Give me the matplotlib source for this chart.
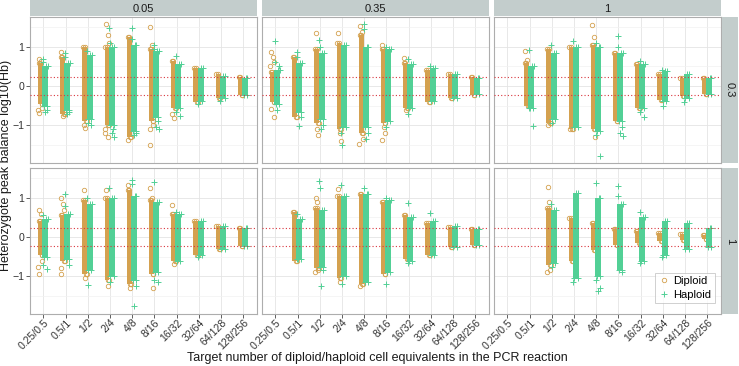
import matplotlib
matplotlib.use("Agg")
import matplotlib.pyplot as plt
from matplotlib.lines import Line2D
from matplotlib.transforms import ScaledTranslation
import numpy as np

plt.rcParams['font.family'] = ['Liberation Sans', 'DejaVu Sans']

categories = ["0.25/0.5", "0.5/1", "1/2", "2/4", "4/8", "8/16", "16/32", "32/64", "64/128", "128/256"]
col_labels = ["0.05", "0.35", "1"]
row_labels = ["0.3", "1"]
hb_threshold = 0.6

# ---- facet row 0.3, col 0.05 ----
dip_lo_a = [-0.45, -0.7, -0.9, -1.0, -1.3, -0.9, -0.55, -0.4, -0.3, -0.22]
dip_hi_a = [0.6, 0.75, 1.0, 1.0, 1.25, 0.95, 0.65, 0.45, 0.3, 0.22]
dip_out_a = [[0.68, 0.63, -0.55, -0.62, -0.68], [0.87, -0.75], [-1.0, -1.08], [1.58, 1.3, 1.1, -1.1, -1.2, -1.3],
             [-1.37], [1.51, 1.05, -1.0, -1.1, -1.49], [-0.72, -0.82], [], [], []]
hap_lo_a = [-0.5, -0.6, -0.85, -1.0, -1.15, -0.8, -0.55, -0.38, -0.3, -0.22]
hap_hi_a = [0.5, 0.6, 0.8, 1.0, 1.05, 0.9, 0.55, 0.45, 0.25, 0.2]
hap_out_a = [[0.7, 0.62, -0.6, -0.67], [0.83, 0.75, -0.65, -0.7], [0.9, -0.95, -1.0], [1.48, 1.1, -1.1, -1.2, -1.3],
             [1.2, 1.48, -1.2, -1.25], [1.05, 0.95, -0.9, -1.05, -1.1], [0.76, -0.65, -0.75], [-0.45], [-0.37], []]

# ---- facet row 0.3, col 0.35 ----
dip_lo_b = [-0.4, -0.8, -0.95, -1.1, -1.2, -0.95, -0.55, -0.4, -0.3, -0.22]
dip_hi_b = [0.35, 0.75, 0.95, 1.1, 1.3, 0.95, 0.6, 0.42, 0.3, 0.22]
dip_out_b = [[0.87, 0.75, 0.62, 0.5, -0.58, -0.78], [], [1.34, -1.1, -1.25], [1.36, -1.2, -1.41],
             [1.53, 1.38, -1.35, -1.48], [1.04, -1.05, -1.2, -1.37], [0.72, -0.6], [], [], []]
hap_lo_b = [-0.45, -0.65, -0.85, -1.05, -1.05, -0.9, -0.55, -0.38, -0.3, -0.2]
hap_hi_b = [0.4, 0.6, 0.85, 1.05, 1.0, 0.95, 0.55, 0.45, 0.3, 0.2]
hap_out_b = [[1.14, 0.62, 0.5, -0.6], [0.87, 0.75, -0.8, -1.03], [1.17, 1.0, -1.0, -1.1], [-1.2, -1.5],
             [1.58, 1.45, -1.2, -1.35], [1.0, -1.05], [0.7, -0.7], [0.5], [], []]

# ---- facet row 0.3, col 1 ----
dip_lo_c = [None, -0.52, -0.95, -1.1, -1.1, -0.9, -0.55, -0.35, -0.25, -0.2]
dip_hi_c = [None, 0.6, 0.95, 1.0, 1.05, 0.85, 0.55, 0.3, 0.2, 0.2]
dip_out_c = [[], [0.9, 0.66], [-0.99], [-1.1], [1.55, 1.25, -1.3], [], [], [], [], []]
hap_lo_c = [None, -0.55, -0.85, -1.05, -1.15, -0.9, -0.55, -0.38, -0.3, -0.2]
hap_hi_c = [None, 0.5, 0.85, 1.0, 1.0, 0.85, 0.55, 0.38, 0.3, 0.2]
hap_out_c = [[], [0.92, -0.55, -1.02], [1.05, -0.95], [1.15], [1.1, -1.25, -1.77], [1.28, 1.0, -1.05, -1.2, -1.27],
             [0.65, -0.65, -0.8], [0.4, -0.5], [-0.4], []]

# ---- facet row 1, col 0.05 ----
dip_lo_d = [-0.45, -0.6, -0.95, -1.1, -1.2, -0.95, -0.6, -0.45, -0.3, -0.22]
dip_hi_d = [0.4, 0.55, 0.95, 1.0, 1.2, 0.95, 0.6, 0.4, 0.28, 0.22]
dip_out_d = [[0.68, 0.6, -0.6, -0.75, -0.94], [0.99, 0.85, 0.7, -0.8, -0.94], [1.19, -1.05], [1.2, -1.25],
             [1.33, -1.3], [1.24, 1.0, -1.3], [0.82, -0.68], [], [], []]
hap_lo_d = [-0.5, -0.55, -0.85, -1.0, -1.1, -0.9, -0.6, -0.45, -0.3, -0.22]
hap_hi_d = [0.45, 0.6, 0.85, 1.0, 1.05, 0.9, 0.6, 0.4, 0.28, 0.22]
hap_out_d = [[0.55, -0.7, -0.81], [1.09, 0.8, -0.7], [1.0, -1.23], [1.25, -1.15], [1.46, 1.35, -1.25, -1.76],
             [1.4, -1.1, -1.15], [0.65], [-0.5], [], []]

# ---- facet row 1, col 0.35 ----
dip_lo_e = [None, -0.62, -0.8, -1.05, -1.2, -0.95, -0.55, -0.45, -0.25, -0.2]
dip_hi_e = [None, 0.65, 0.74, 1.05, 1.1, 0.9, 0.55, 0.35, 0.25, 0.2]
dip_out_e = [[], [], [1.0, 0.9, -0.85, -0.9], [1.22, -1.15], [-1.25], [], [], [], [], []]
hap_lo_e = [None, -0.55, -0.75, -1.0, -1.15, -0.9, -0.6, -0.45, -0.25, -0.2]
hap_hi_e = [None, 0.45, 0.7, 1.05, 1.1, 0.95, 0.5, 0.4, 0.28, 0.2]
hap_out_e = [[], [0.6, -0.55], [1.42, 1.25, -0.85, -1.25], [1.33, -1.2], [1.25], [1.0, -1.2], [0.86, -0.65], [0.61], [], []]

# ---- facet row 1, col 1 ----
dip_lo_f = [None, None, -0.7, -0.6, -0.32, -0.2, -0.15, -0.1, -0.08, -0.06]
dip_hi_f = [None, None, 0.75, 0.48, 0.36, 0.2, 0.15, 0.1, 0.08, 0.06]
dip_out_f = [[], [], [1.27, 0.9, -0.85, -0.9], [], [], [], [], [], [], []]
hap_lo_f = [None, None, -0.65, -1.04, -1.0, -0.85, -0.6, -0.45, -0.3, -0.25]
hap_hi_f = [None, None, 0.7, 1.12, 1.0, 0.85, 0.5, 0.4, 0.35, 0.22]
hap_out_f = [[], [], [0.85, -0.75], [-1.15], [1.39, -1.1, -1.3, -1.38], [1.3, 1.05, -0.9], [0.64, -0.65], [-0.5], [], []]

facets = [
    [(dip_lo_a, dip_hi_a, dip_out_a, hap_lo_a, hap_hi_a, hap_out_a),
     (dip_lo_b, dip_hi_b, dip_out_b, hap_lo_b, hap_hi_b, hap_out_b),
     (dip_lo_c, dip_hi_c, dip_out_c, hap_lo_c, hap_hi_c, hap_out_c)],
    [(dip_lo_d, dip_hi_d, dip_out_d, hap_lo_d, hap_hi_d, hap_out_d),
     (dip_lo_e, dip_hi_e, dip_out_e, hap_lo_e, hap_hi_e, hap_out_e),
     (dip_lo_f, dip_hi_f, dip_out_f, hap_lo_f, hap_hi_f, hap_out_f)],
]

# ---- style ----
ORANGE = "#D4A14F"
GREEN = "#52D096"
STRIP = "#C3CDCC"
BORDER = "#ADADAD"
GRID_MAJ = "#E4E4E4"
GRID_MIN = "#F1F1F1"
W, H = 739, 366
fig = plt.figure(figsize=(W / 100, H / 100), dpi=100)

panel_x = [(30, 256.5), (262, 488.5), (494, 720.5)]
panel_y = [(17, 163), (168, 314)]

DIP_OFF, DIP_W = -0.13, 0.22
HAP_OFF, HAP_W = 0.085, 0.27
jit = [-0.35, 0.25, -0.05, 0.4, -0.25, 0.1, 0.3, -0.4]

def fx(px):
    return px / W

def fy(py):
    return 1 - py / H

label_shift = ScaledTranslation(4 / 100, -1 / 100, fig.dpi_scale_trans)

axes = []
for r in range(2):
    for c in range(3):
        x0, x1 = panel_x[c]
        y0, y1 = panel_y[r]
        ax = fig.add_axes([fx(x0), fy(y1), fx(x1) - fx(x0), fy(y0) - fy(y1)])
        axes.append(ax)
        ax.set_xlim(0.4, 10.6)
        ax.set_ylim(-1.96, 1.76)
        ax.set_facecolor("white")
        for s in ax.spines.values():
            s.set_color(BORDER)
            s.set_linewidth(0.8)
        xs = np.arange(1, len(categories) + 1)
        ax.set_xticks(xs)
        ax.set_yticks([-1, 0, 1])
        ax.set_yticks([-1.5, -0.5, 0.5, 1.5], minor=True)
        ax.grid(True, which="major", color=GRID_MAJ, lw=0.6, zorder=0)
        ax.grid(True, which="minor", axis="y", color=GRID_MIN, lw=0.5, zorder=0)
        ax.set_axisbelow(True)
        ax.tick_params(axis="both", which="major", length=2.8, width=0.6, color="#444444",
                       labelsize=7.6, labelcolor="#333333", pad=1.5)
        ax.tick_params(axis="both", which="minor", length=0)
        if c == 0:
            ax.set_yticklabels(["\u22121", "0", "1"])
        else:
            ax.tick_params(axis="y", labelleft=False, length=0)
        if r == 1:
            ax.set_xticklabels(categories, rotation=45, ha="right", va="center", rotation_mode="anchor")
            for lbl in ax.get_xticklabels():
                lbl.set_transform(lbl.get_transform() + label_shift)
        else:
            ax.tick_params(axis="x", labelbottom=False, length=0)

        dlo, dhi, dout, hlo, hhi, hout = facets[r][c]
        for i in range(len(categories)):
            xc = xs[i]
            if dlo[i] is not None:
                ax.bar(xc + DIP_OFF, dhi[i] - dlo[i], bottom=dlo[i], width=DIP_W,
                       color=ORANGE, lw=0, zorder=2)
                pts = [dhi[i], dlo[i], dhi[i], dlo[i]] + dout[i]
                for k, v in enumerate(pts):
                    ax.plot(xc + DIP_OFF + jit[k % len(jit)] * DIP_W, v, marker="o", ms=3.2,
                            mfc="none", mec=ORANGE, mew=0.6, ls="none", zorder=3)
            if hlo[i] is not None:
                ax.bar(xc + HAP_OFF, hhi[i] - hlo[i], bottom=hlo[i], width=HAP_W,
                       color=GREEN, lw=0, zorder=4)
                pts = [hhi[i], hlo[i], hhi[i], hlo[i]] + hout[i]
                for k, v in enumerate(pts):
                    ax.plot(xc + HAP_OFF + jit[(k + 3) % len(jit)] * HAP_W, v, marker="+", ms=4.6,
                            mec=GREEN, mew=0.7, ls="none", zorder=5)
        t = np.log10(hb_threshold)
        ax.axhline(t, color="#D9363E", lw=0.8, ls=(0, (1, 2)), zorder=6)
        ax.axhline(-t, color="#D9363E", lw=0.8, ls=(0, (1, 2)), zorder=6)

# strips on top
for c in range(3):
    x0, x1 = panel_x[c]
    sax = fig.add_axes([fx(x0), fy(16), fx(x1) - fx(x0), fy(0) - fy(16)])
    sax.set_facecolor(STRIP)
    sax.set_xticks([]); sax.set_yticks([])
    for s in sax.spines.values():
        s.set_visible(False)
    sax.text(0.5, 0.45, col_labels[c], ha="center", va="center", fontsize=8, color="#1A1A1A",
             transform=sax.transAxes)

# strips on right
for r in range(2):
    y0, y1 = panel_y[r]
    sax = fig.add_axes([fx(722), fy(y1), fx(738) - fx(722), fy(y0) - fy(y1)])
    sax.set_facecolor(STRIP)
    sax.set_xticks([]); sax.set_yticks([])
    for s in sax.spines.values():
        s.set_visible(False)
    sax.text(0.5, 0.5, row_labels[r], ha="center", va="center", fontsize=8, color="#1A1A1A",
             rotation=-90, transform=sax.transAxes)

fig.text(fx(377), fy(358), "Target number of diploid/haploid cell equivalents in the PCR reaction",
         ha="center", va="center", fontsize=9, color="#1A1A1A")
fig.text(fx(6.5), fy(165), "Heterozygote peak balance log10(Hb)", ha="center", va="center",
         rotation=90, fontsize=9, color="#1A1A1A")

handles = [Line2D([], [], marker="o", ms=3.2, mfc="none", mec=ORANGE, mew=0.6, ls="none"),
           Line2D([], [], marker="+", ms=4.6, mec=GREEN, mew=0.7, ls="none")]
leg = axes[5].legend(handles, ["Diploid", "Haploid"], loc="lower right", bbox_to_anchor=(0.975, 0.075),
                     fontsize=8, frameon=True, fancybox=False, handlelength=1.0, handletextpad=0.4,
                     borderpad=0.3, labelspacing=0.3, borderaxespad=0)
leg.get_frame().set_edgecolor("#BBBBBB")
leg.get_frame().set_linewidth(0.6)

fig.savefig("out.png", dpi=100)
